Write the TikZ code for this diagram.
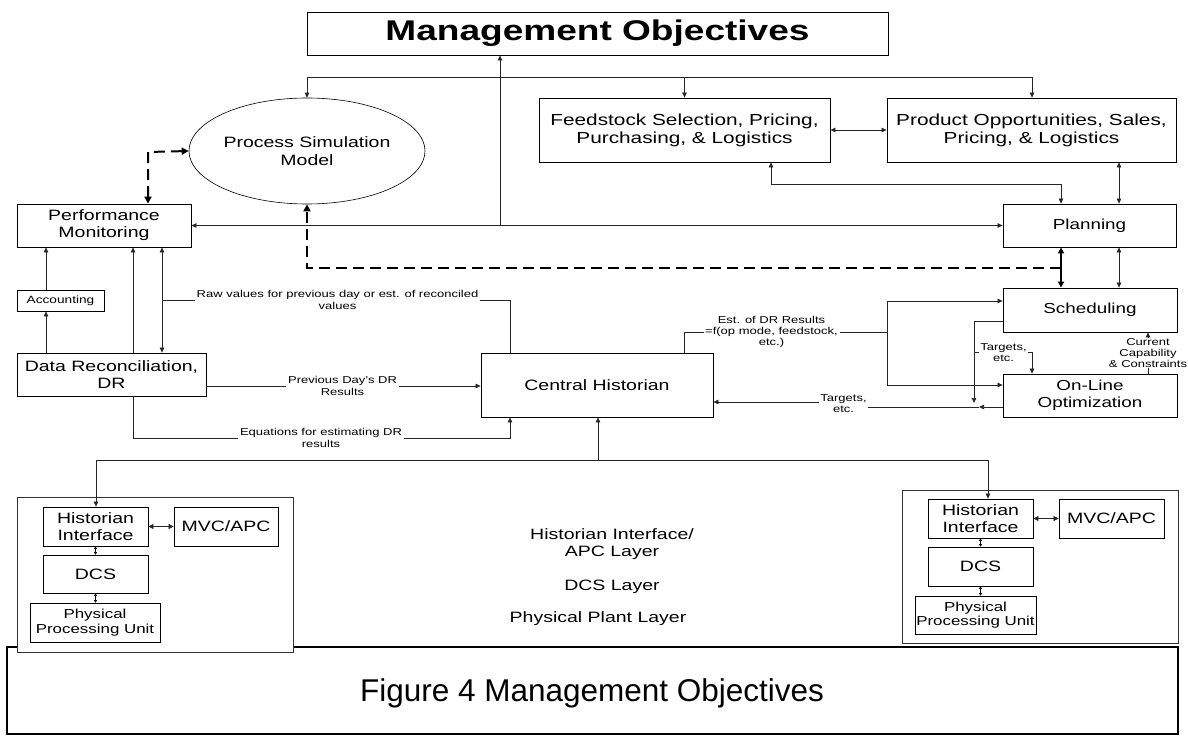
\documentclass[tikz,border=0pt]{standalone}
\usepackage{fontspec}
\setmainfont{Liberation Sans}[FakeStretch=1.3]
\newfontfamily\capfont{Liberation Sans}
\usetikzlibrary{arrows.meta,shapes.geometric}
\newcommand\fsz[2]{\fontsize{#1}{#2}\selectfont}

\begin{document}
\begin{tikzpicture}[x=1pt,y=-1pt,
  >={Triangle[length=5pt,width=4.5pt]},
  box/.style={draw=black, line width=0.8pt, fill=white, inner sep=0pt, align=center, font=\fsz{15}{17}},
  lbl/.style={inner xsep=1.5pt, inner ysep=0pt, align=center, font=\fsz{10}{11.2}},
  ln/.style={line width=0.7pt, draw=black!85},
  arr/.style={ln, ->},
  darr/.style={ln, <->},
  smallarr/.style={line width=0.5pt, arrows={Triangle[length=2.5pt,width=3pt]-Triangle[length=2.5pt,width=3pt]}},
  dsh/.style={line width=2pt, dash pattern=on 11pt off 6pt},
  bigtip/.style={arrows={-Triangle[length=7pt,width=7pt]}},
  bigtips/.style={arrows={Triangle[length=7pt,width=7pt]-Triangle[length=7pt,width=7pt]}},
]
\useasboundingbox (0,0) rectangle (1188,738);

% caption frame and caption
\node[draw, line width=1.6pt, minimum width=1171pt, minimum height=87pt, inner sep=0pt] (capbox) at (592.5,690.5) {};
\node[font=\capfont\fsz{31.5}{36}] (cap) at (592,693) {Figure 4 Management Objectives};

% plant containers
\node[box, draw=black!80, line width=0.6pt, minimum width=276pt, minimum height=155pt] (lplant) at (155,574.5) {};
\node[box, draw=black!80, line width=0.6pt, minimum width=276pt, minimum height=153pt] (rplant) at (1040,566.5) {};

% top level
\node[box, font=\bfseries\fsz{28.5}{32}, minimum width=581pt, minimum height=43pt] (mo) at (597.5,33.5) {Management Objectives};
\node[ellipse, draw, line width=0.6pt, fill=white, inner sep=0pt, minimum width=232pt, minimum height=106pt, align=center, font=\fsz{15}{18}] (psm) at (307,151) {Process Simulation\\Model};
\node[box, font=\fsz{16}{18}, minimum width=291pt, minimum height=64pt] (fs) at (684.5,130) {Feedstock Selection, Pricing,\\Purchasing, \& Logistics};
\node[box, font=\fsz{16}{18}, minimum width=289pt, minimum height=64pt] (po) at (1031.5,130) {Product Opportunities, Sales,\\Pricing, \& Logistics};

% left column
\node[box, minimum width=174pt, minimum height=43pt] (pm) at (104,225.5) {Performance\\Monitoring};
\node[box, font=\fsz{10.5}{12}, minimum width=87pt, minimum height=21pt] (acc) at (60.5,300.5) {Accounting};
\node[box, minimum width=189pt, minimum height=43pt] (dr) at (111.5,374.5) {Data Reconciliation,\\DR};

% right column
\node[box, font=\fsz{14.5}{17}, minimum width=173pt, minimum height=43pt] (plan) at (1089.5,225.5) {Planning};
\node[box, font=\fsz{14.5}{17}, minimum width=174pt, minimum height=44pt] (sched) at (1090,310) {Scheduling};
\node[box, font=\fsz{14.5}{17}, minimum width=174pt, minimum height=43pt] (olo) at (1090,395.5) {On-Line\\Optimization};

% centre
\node[box, minimum width=232pt, minimum height=64pt] (ch) at (597,385) {Central Historian};

% left plant
\node[box, minimum width=105pt, minimum height=39pt, font=\fsz{15}{16.5}] (lhi) at (95.5,526.5) {Historian\\Interface};
\node[box, minimum width=104pt, minimum height=39pt] (lmvc) at (226,526.5) {MVC/APC};
\node[box, minimum width=105pt, minimum height=38pt] (ldcs) at (95.5,574) {DCS};
\node[box, minimum width=130pt, minimum height=39pt, font=\fsz{13}{14.5}] (lppu) at (95,622.5) {Physical\\Processing Unit};

% right plant
\node[box, minimum width=105pt, minimum height=39pt, font=\fsz{15}{16.5}] (rhi) at (980.5,518.5) {Historian\\Interface};
\node[box, minimum width=105pt, minimum height=39pt] (rmvc) at (1111.5,518.5) {MVC/APC};
\node[box, minimum width=105pt, minimum height=39pt] (rdcs) at (980.5,566.5) {DCS};
\node[box, minimum width=121pt, minimum height=38pt, font=\fsz{13}{14.5}] (rppu) at (975.5,615) {Physical\\Processing Unit};

% layer names
\node[align=center, font=\fsz{15}{17}] (layhi) at (612,544.5) {Historian Interface/\\APC Layer};
\node[font=\fsz{15}{17}] (laydcs) at (612,587) {DCS Layer};
\node[font=\fsz{15}{17}] (layphys) at (598,619) {Physical Plant Layer};

% connector labels
\node[lbl] (lraw) at (337.5,300) {Raw values for previous day or est. of reconciled\\values};
\node[lbl] (lprev) at (342.5,386) {Previous Day's DR\\Results};
\node[lbl] (leq) at (321,438) {Equations for estimating DR\\results};
\node[lbl] (lest) at (771.5,332) {Est. of DR Results\\=f(op mode, feedstock,\\etc.)};
\node[lbl] (ltg1) at (1003.5,352.5) {Targets,\\etc.};
\node[lbl] (ltg2) at (843.5,404) {Targets,\\etc.};
\node[lbl, inner xsep=0pt] (lcc) at (1148,353) {Current\\Capability\\\& Constraints};

% junction points
\coordinate (t1) at (307,77);
\coordinate (t3) at (1032,77);
\coordinate (m1) at (500,226);
\coordinate (f1) at (771,184);
\coordinate (f2) at (1061,184);
\coordinate (d1) at (1061,268);
\coordinate (d2) at (307,268);
\coordinate (d3) at (148,152);
\coordinate (r1) at (162,300);
\coordinate (r2) at (510,300);
\coordinate (q1) at (133,438);
\coordinate (q2) at (510,438);
\coordinate (e0) at (684,332);
\coordinate (e1) at (887,301);
\coordinate (e2) at (887,385);
\coordinate (e3) at (887,332);
\coordinate (s1) at (974,321);
\coordinate (s2) at (974,403);
\coordinate (o1) at (979,407);
\coordinate (b0) at (598,460);
\coordinate (bl) at (96,460);
\coordinate (br) at (988,460);

% management objectives distribution
\draw[ln] (t1) -- (t3);
\draw[arr] (t1) -- (psm.north);
\draw[arr] (fs.north |- t1) -- (fs.north);
\draw[arr] (t3) -- (t3 |- po.north);
\draw[arr] (m1) -- (m1 |- mo.south);
\draw[darr] (pm.east) -- (plan.west);

% business level links
\draw[darr] (fs.east) -- (po.west);
\draw[darr] (f1 |- fs.south) -- (f1) -- (f2) -- (f2 |- plan.north);
\draw[darr] (po.south -| 1119,0) -- (plan.north -| 1119,0);
\draw[darr] (plan.south -| 1119,0) -- (sched.north -| 1119,0);
\draw[line width=1.5pt, arrows={Triangle[length=6pt,width=6pt]-Triangle[length=6pt,width=6pt]}] (plan.south -| d1) -- (sched.north -| d1);

% dashed model links
\draw[dsh, bigtip] (d1) -- (d2) -- (psm.south);
\draw[dsh, bigtips] (pm.north -| d3) -- (d3) -- (psm.west);

% performance monitoring, accounting, data reconciliation
\draw[arr] (acc.north -| 46,0) -- (pm.south -| 46,0);
\draw[arr] (dr.north -| 46,0) -- (acc.south -| 46,0);
\draw[arr] (dr.north -| 133,0) -- (pm.south -| 133,0);
\draw[darr] (pm.south -| r1) -- (dr.north -| r1);
\draw[ln] (r1) -- (lraw.west);
\draw[ln] (lraw.east) -- (r2) -- (ch.north -| r2);
\draw[ln] (dr.east |- lprev.west) -- (lprev.west);
\draw[arr] (lprev.east) -- (ch.west |- lprev.east);
\draw[ln] (dr.south -| q1) -- (q1) -- (leq.west);
\draw[arr] (leq.east) -- (q2) -- (ch.south -| q2);

% historian to scheduling and optimization
\draw[ln] (ch.north -| e0) -- (e0) -- (lest.west);
\draw[ln] (lest.east) -- (e3);
\draw[ln] (e1) -- (e2);
\draw[arr] (e1) -- (sched.west |- e1);
\draw[arr] (e2) -- (olo.west |- e2);
\draw[arr] (sched.west |- s1) -- (s1) -- (s2);
\draw[ln] (s1 |- ltg1.west) -- (ltg1.west);
\draw[arr] (ltg1.east) -- (1032,352.5) -- (olo.north -| 1032,0);
\draw[arr] (olo.west |- o1) -- (o1);
\draw[ln] (o1) -- (o1 -| ltg2.east);
\draw[arr] (ltg2.west |- 0,402) -- (ch.east |- 0,402);
\draw[ln] (olo.north -| lcc) -- (lcc.south);
\draw[arr] (lcc.north) -- (sched.south -| lcc);

% historian to plant interfaces
\draw[ln] (bl) -- (br);
\draw[arr] (b0) -- (ch.south -| b0);
\draw[arr] (bl) -- (lhi.north -| bl);
\draw[arr] (br) -- (rhi.north -| br);

% inside the plants
\draw[ln, arrows={Triangle[length=5pt,width=5pt]-Triangle[length=5pt,width=5pt]}] (lhi.east) -- (lmvc.west);
\draw[smallarr] (lhi.south) -- (ldcs.north);
\draw[smallarr] (ldcs.south) -- (lppu.north -| ldcs.south);
\draw[ln, arrows={Triangle[length=5pt,width=5pt]-Triangle[length=5pt,width=5pt]}] (rhi.east) -- (rmvc.west);
\draw[smallarr] (rhi.south) -- (rdcs.north);
\draw[smallarr] (rdcs.south) -- (rppu.north -| rdcs.south);
\end{tikzpicture}
\end{document}
